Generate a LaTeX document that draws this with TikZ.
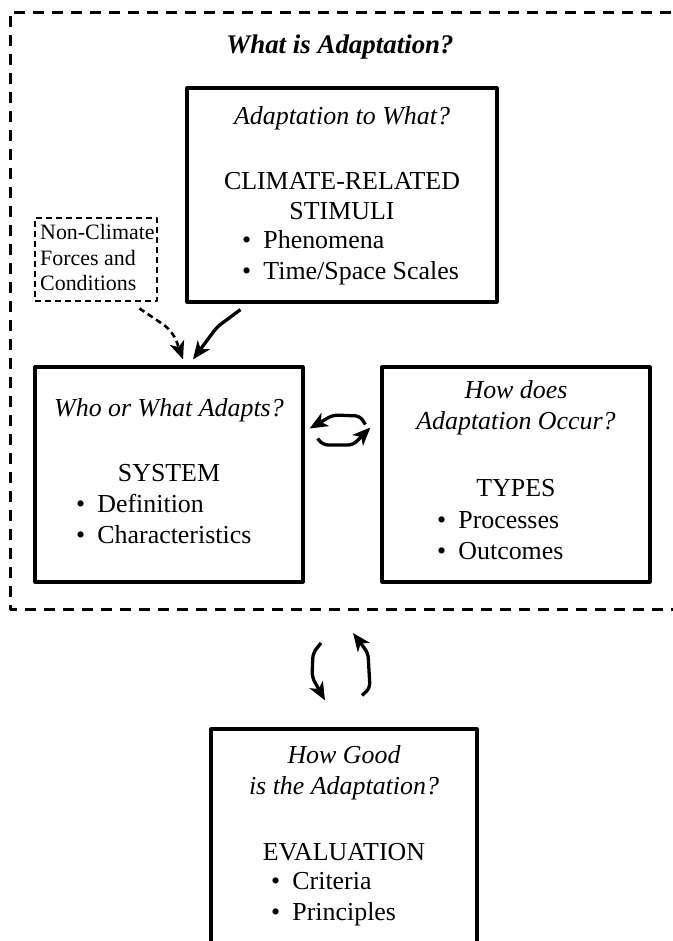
\documentclass[tikz,border=0pt]{standalone}
\usepackage{fontspec}
\setmainfont{Liberation Serif}
\usetikzlibrary{arrows.meta}

\newcommand{\dotitem}{\makebox[0.82em][l]{\textbullet}}

\begin{document}
\begin{tikzpicture}[x=1bp, y=-1bp, line join=round]
    \tikzstyle{frame}=[draw, line width=3.2bp, inner sep=0pt]
    \tikzstyle{txt}=[inner sep=0pt, font=\fontsize{26}{31}\selectfont]
    \tikzstyle{ask}=[inner sep=0pt, font=\fontsize{26}{31}\selectfont\itshape]
    \tikzstyle{small}=[inner sep=0pt, font=\fontsize{22}{25.5}\selectfont]
    \tikzstyle{arr}=[line width=3.3bp, rounded corners=5bp, -{Stealth[length=18bp,width=15bp,inset=5bp]}]
    \useasboundingbox (0,0) rectangle (673,941);
    \clip (0,0) rectangle (673,941);
    % outer frame, open to the right
    \draw[line width=3bp, dash pattern=on 11bp off 8bp] (690,12) -- (10,12) -- (10,609) -- (690,609);
    \node[inner sep=0pt, font=\fontsize{27}{31}\selectfont\bfseries\itshape] (title) at (340,47) {What is Adaptation?};
    % boxes
    \node[frame, minimum width=310bp, minimum height=214bp] (stim) at (342,195) {};
    \node[frame, minimum width=268bp, minimum height=215bp] (sys) at (169,474.5) {};
    \node[frame, minimum width=268bp, minimum height=215bp] (types) at (516,474.5) {};
    \node[frame, minimum width=266bp, minimum height=260bp] (eval) at (344,859) {};
    \node[draw, line width=2.8bp, dash pattern=on 6bp off 4bp, inner sep=0pt,
      minimum width=122bp, minimum height=83bp] (ncf) at (96,259.5) {};
    % texts
    \node[ask] (stimq) at (342,118) {Adaptation to What?};
    \node[txt, align=center] (stimc) at (342,196) {CLIMATE-RELATED\\STIMULI};
    \node[txt, align=left, anchor=west] (stiml) at (242,257.5) {\dotitem Phenomena\\\dotitem Time/Space Scales};
    \node[ask] (sysq) at (169,410) {Who or What Adapts?};
    \node[txt] (sysc) at (169,473) {SYSTEM};
    \node[txt, align=left, anchor=west] (sysl) at (76,519) {\dotitem Definition\\\dotitem Characteristics};
    \node[ask, align=center] (typesq) at (516,408) {How does\\Adaptation Occur?};
    \node[txt] (typesc) at (516,488) {TYPES};
    \node[txt, align=left, anchor=west] (typesl) at (437,536) {\dotitem Processes\\\dotitem Outcomes};
    \node[ask, align=center] (evalq) at (344,773) {How Good\\is the Adaptation?};
    \node[txt] (evalc) at (344,852) {EVALUATION};
    \node[txt, align=left, anchor=west] (evall) at (271,899) {\dotitem Criteria\\\dotitem Principles};
    \node[small, align=left, anchor=west] (ncft) at (40,257.5) {Non-Climate\\Forces and\\Conditions};
    % connectors
    \draw[arr, line width=2.6bp, dash pattern=on 6bp off 4bp] ([shift={(-19,6)}]ncf.south east) -- (167,327) -- (175,337) -- ([shift={(14,-6)}]sys.north);
    \draw[arr] ([shift={(55,6)}]stim.south west) -- (217,327) -- ([shift={(24,-6)}]sys.north);
    \draw[arr] ([shift={(-15,-50)}]types.west) -- (360,416) -- (333,415) -- ([shift={(5,-46)}]sys.east);
    \draw[arr] ([shift={(13,-36)}]sys.east) -- (323,445) -- (353,445) -- ([shift={(-10,-47)}]types.west);
    \coordinate (upl) at (321,643);
    \coordinate (upr) at (353,633);
    \draw[arr] (upl) -- (313,653) -- (312,677) -- ([shift={(-19,-27)}]eval.north);
    \draw[arr] ([shift={(18,-32)}]eval.north) -- (370,688) -- (368,653) -- (upr);
\end{tikzpicture}
\end{document}
